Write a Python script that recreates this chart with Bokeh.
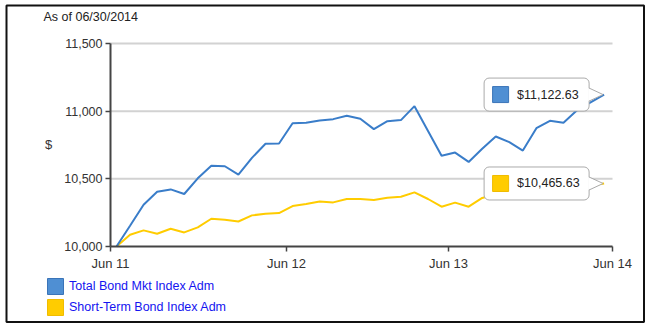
from bokeh.plotting import figure
from bokeh.models import (Range1d, FixedTicker, NumeralTickFormatter, Legend,
                          LegendItem, Label, BoxAnnotation)
from bokeh.core.properties import value
from bokeh.embed import file_html
from bokeh.resources import INLINE

# ---------------- data ----------------
AS_OF = "As of 06/30/2014"
SERIES_NAMES = ["Total Bond Mkt Index Adm", "Short-Term Bond Index Adm"]
Y_LABEL = "$"
MONTHS = list(range(37))
TOTAL_BOND = [10000, 10153, 10309, 10405, 10422, 10388, 10504, 10596, 10593, 10531,
              10655, 10759, 10761, 10911, 10914, 10931, 10941, 10966, 10944, 10867,
              10926, 10934, 11037, 10854, 10670, 10694, 10625, 10722, 10813, 10771,
              10709, 10874, 10929, 10914, 11006, 11065, 11122.63]
SHORT_TERM = [10000, 10087, 10119, 10094, 10131, 10104, 10141, 10205, 10198, 10185,
              10230, 10242, 10247, 10299, 10314, 10333, 10326, 10351, 10351, 10344,
              10361, 10368, 10400, 10351, 10294, 10324, 10294, 10359, 10385, 10375,
              10370, 10405, 10420, 10425, 10440, 10452, 10465.63]
Y_TICKS = [10000, 10500, 11000, 11500]
X_TICK_POS = [-0.443, 12.55, 24.51, 36.62]
X_TICK_LABELS = ["Jun 11", "Jun 12", "Jun 13", "Jun 14"]

# ---------------- style / layout ----------------
BLUE_LINE, BLUE_SW, BLUE_EDGE = "#3a7dc9", "#4f8fd3", "#3a74b8"
YEL_LINE, YEL_SW, YEL_EDGE = "#ffcc00", "#ffcc00", "#f0bc00"
FONT = "Liberation Sans"
W, H = 650, 326
PL, PR, PT, PB = 110, 612, 43, 246       # plot area inside the canvas (px)
X0, X1 = X_TICK_POS[0], X_TICK_POS[-1]
Y0, Y1 = Y_TICKS[0], Y_TICKS[-1]
DX = (X1 - X0) / (PR - PL)
DY = (Y1 - Y0) / (PB - PT)

p = figure(width=W, height=H, title=None,
           x_range=Range1d(X0 - PL * DX, X1 + (W - PR) * DX),
           y_range=Range1d(Y0 - (H - PB) * DY, Y1 + PT * DY),
           output_backend="svg", toolbar_location=None, min_border=0)
p.outline_line_color = None
p.background_fill_color = "white"
p.border_fill_color = "white"

# axes placed at the plot area's edges
p.yaxis.fixed_location = X0
p.yaxis.bounds = (Y0, Y1)
p.xaxis.fixed_location = Y0
p.xaxis.bounds = (X0, X1)
p.yaxis.ticker = FixedTicker(ticks=Y_TICKS)
p.yaxis.formatter = NumeralTickFormatter(format="0,0")
p.xaxis.ticker = FixedTicker(ticks=X_TICK_POS)
p.xaxis.major_label_overrides = {k: v for k, v in zip(X_TICK_POS, X_TICK_LABELS)}
for ax in (p.xaxis, p.yaxis):
    ax.axis_line_color = "#444444"
    ax.axis_line_width = 2
    ax.major_tick_line_color = "#444444"
    ax.major_tick_line_width = 1.5
    ax.major_tick_out = 5
    ax.major_tick_in = 0
    ax.minor_tick_line_color = None
    ax.major_label_text_font = FONT
    ax.major_label_text_color = "#333333"
p.yaxis.major_label_text_font_size = "12.5px"
p.xaxis.major_label_text_font_size = "13px"
p.yaxis.major_label_standoff = 3
p.xaxis.major_label_standoff = 4
p.xgrid.visible = False
p.ygrid.visible = False

# horizontal grid lines across the plot area
GRID_Y = Y_TICKS[1:]
p.segment(x0=[X0] * len(GRID_Y), x1=[X1] * len(GRID_Y), y0=GRID_Y, y1=GRID_Y,
          line_color="#d2d2d2", line_width=2)

# lines
p.line(MONTHS, SHORT_TERM, line_color=YEL_LINE, line_width=2)
p.line(MONTHS, TOTAL_BOND, line_color=BLUE_LINE, line_width=2)


def callout(xv, yv, sw, edge):
    p.rect(x=[xv - 67.5 * DX], y=[yv], width=105, height=33,
           width_units="screen", height_units="screen",
           fill_color="white", line_color="#aaaaaa", line_width=1, border_radius=5)
    p.patch([xv - 16 * DX, xv - 1 * DX, xv - 16 * DX], [yv + 6.5 * DY, yv, yv - 6.5 * DY],
            fill_color="white", line_color=None)
    p.line([xv - 15 * DX, xv - 1 * DX, xv - 15 * DX], [yv + 6.5 * DY, yv, yv - 6.5 * DY],
           line_color="#aaaaaa", line_width=1)
    p.rect(x=[xv - 103.5 * DX], y=[yv], width=16, height=16,
           width_units="screen", height_units="screen",
           fill_color=sw, line_color=edge, line_width=1)
    p.text(x=[xv], y=[yv], text=["${:,.2f}".format(yv)], x_offset=-87,
           text_align="left", text_baseline="middle", text_font=value(FONT),
           text_font_size="12.5px", text_color="#222222")


callout(MONTHS[-1], TOTAL_BOND[-1], BLUE_SW, BLUE_EDGE)
callout(MONTHS[-1], SHORT_TERM[-1], YEL_SW, YEL_EDGE)

# texts
p.add_layout(Label(x=X0, y=Y1, x_offset=43 - PL, y_offset=PT - 16, text=AS_OF,
                   text_font=FONT, text_font_size="12.5px", text_color="#222222",
                   text_align="left", text_baseline="middle"))
p.add_layout(Label(x=X0, y=(Y0 + Y1) / 2, x_offset=48 - PL, y_offset=1, text=Y_LABEL,
                   text_font=FONT, text_font_size="13px", text_color="#333333",
                   text_align="center", text_baseline="middle"))

# legend swatches: zero-size quads at the first data point (hidden under the axes)
r1 = p.quad(left=[MONTHS[0]], right=[MONTHS[0]], top=[TOTAL_BOND[0]], bottom=[TOTAL_BOND[0]],
            fill_color=BLUE_SW, line_color=BLUE_EDGE)
r2 = p.quad(left=[MONTHS[0]], right=[MONTHS[0]], top=[SHORT_TERM[0]], bottom=[SHORT_TERM[0]],
            fill_color=YEL_SW, line_color=YEL_EDGE)
legend = Legend(items=[LegendItem(label=SERIES_NAMES[0], renderers=[r1], index=0),
                       LegendItem(label=SERIES_NAMES[1], renderers=[r2], index=0)],
                location=(45, 9), orientation="vertical", padding=0, margin=0,
                spacing=1, glyph_width=20, glyph_height=20, label_height=20,
                label_standoff=4, label_text_color="#1414f0", label_text_font=FONT,
                label_text_font_size="12.5px", border_line_color=None,
                background_fill_alpha=0)
p.add_layout(legend)

# outer frame
p.add_layout(BoxAnnotation(left=6, right=643.5, top=5, bottom=321.5,
                           left_units="canvas", right_units="canvas",
                           top_units="canvas", bottom_units="canvas",
                           fill_alpha=0, line_color="#111111", line_alpha=1.0,
                           line_width=2))

open("out.html", "w").write(file_html(p, INLINE))
